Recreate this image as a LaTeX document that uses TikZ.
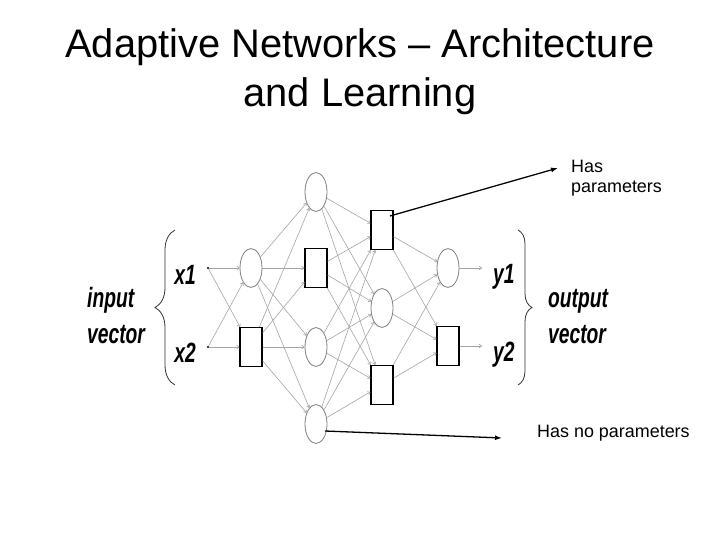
\documentclass[tikz,border=0pt]{standalone}
\usepackage{fontspec}
\setmainfont{Liberation Sans}
\usepackage{graphicx}
\usetikzlibrary{shapes.geometric,arrows.meta,decorations.pathreplacing}
\newcommand{\squeezed}[1]{\scalebox{0.69}[1]{#1}}
\begin{document}
\begin{tikzpicture}[x=1bp, y=-1bp,
	unit/.style={draw=gray, line width=0.8bp, ellipse, minimum width=22bp, minimum height=39bp, inner sep=0pt},
	adapt/.style={draw=black, line width=1.2bp, rectangle, minimum width=22bp, minimum height=39bp, inner sep=0pt},
	pin/.style={fill=black, circle, inner sep=0pt, minimum size=2.2bp},
	link/.style={draw=black!35, line width=0.6bp, -{To[length=3bp,width=4bp]}},
	callout/.style={draw=black, line width=1.3bp, -{Latex[length=7bp,width=5bp]}},
	var/.style={font=\fontsize{28}{32}\selectfont\bfseries\itshape, inner sep=0pt},
	vec/.style={font=\fontsize{28}{36}\selectfont\bfseries\itshape, align=left, inner sep=0pt},
	note/.style={font=\fontsize{18}{21}\selectfont, align=left, inner sep=0pt},
	title/.style={font=\fontsize{40}{48}\selectfont, inner sep=0pt},
	curly/.style={draw=black!80, line width=0.8bp, decorate}]
	\path[fill=white] (0,0) rectangle (720,540);
	\node[title, anchor=base] (t1) at (360,58) {Adaptive Networks – Architecture};
	\node[title, anchor=base] (t2) at (360,107) {and Learning};
	% layers
	\node[pin] (in1) at (208,268) {};
	\node[pin] (in2) at (208,347) {};
	\node[unit] (a1) at (251,268) {};
	\node[adapt] (a2) at (251,347) {};
	\node[unit] (b1) at (316,192) {};
	\node[adapt] (b2) at (316,268) {};
	\node[unit] (b3) at (316,347) {};
	\node[unit] (b4) at (316,424) {};
	\node[adapt] (c1) at (382,230) {};
	\node[unit] (c2) at (382,308) {};
	\node[adapt] (c3) at (382,385) {};
	\node[unit] (d1) at (448,268) {};
	\node[adapt] (d2) at (448,346) {};
	% labels
	\node[var, anchor=base east] (x1) at (196,285) {\squeezed{x1}};
	\node[var, anchor=base east] (x2) at (196,362) {\squeezed{x2}};
	\node[var, anchor=base west] (y1) at (493,284) {\squeezed{y1}};
	\node[var, anchor=base west] (y2) at (493,361) {\squeezed{y2}};
	\node[vec, anchor=base west] (inv) at (87,343) {\squeezed{input}\\\squeezed{vector}};
	\node[vec, anchor=base west] (outv) at (548,343) {\squeezed{output}\\\squeezed{vector}};
	\node[note, anchor=base west] (hp) at (571,193) {Has\\parameters};
	\node[note, anchor=base west] (hnp) at (537,437) {Has no parameters};
	\draw[curly, decoration={brace, amplitude=20bp}] (175,385) -- (175,230);
	\draw[curly, decoration={brace, amplitude=14bp}] (518,230) -- (518,385);
	% links
	\draw[link] (in1) to (a1); \draw[link] (in1) to (a2);
	\draw[link] (in2) to (a1); \draw[link] (in2) to (a2);
	\draw[link] (a1) to (b1); \draw[link] (a1) to (b2); \draw[link] (a1) to (b3); \draw[link] (a1) to (b4);
	\draw[link] (a2) to (b1); \draw[link] (a2) to (b2); \draw[link] (a2) to (b3); \draw[link] (a2) to (b4);
	\draw[link] (b1) to (c1); \draw[link] (b1) to (c2); \draw[link] (b1) to (c3);
	\draw[link] (b2) to (c1); \draw[link] (b2) to (c2); \draw[link] (b2) to (c3);
	\draw[link] (b3) to (c1); \draw[link] (b3) to (c2); \draw[link] (b3) to (c3);
	\draw[link] (b4) to (c1); \draw[link] (b4) to (c2); \draw[link] (b4) to (c3);
	\draw[link] (c1) to (d1); \draw[link] (c1) to (d2);
	\draw[link] (c2) to (d1); \draw[link] (c2) to (d2);
	\draw[link] (c3) to (d1); \draw[link] (c3) to (d2);
	\draw[link, shorten >=11bp] (d1) to (d1 -| y1.west);
	\draw[link, shorten >=11bp] (d2) to (d2 -| y2.west);
	% callouts
	\draw[callout] ([shift={(8,-14)}]c1.center) to ([xshift=-13bp, yshift=25bp]hp.base west);
	\draw[callout] ([shift={(9,7)}]b4.center) to ([xshift=-35bp, yshift=-1bp]hnp.base west);
\end{tikzpicture}
\end{document}
